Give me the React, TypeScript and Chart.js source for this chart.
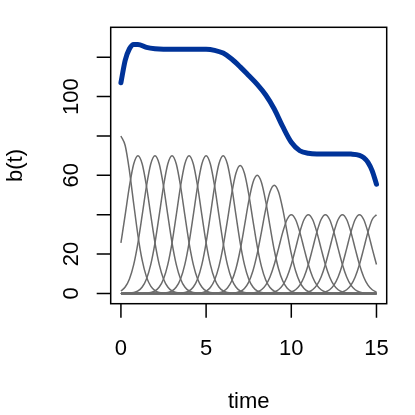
import React, { useEffect, useRef } from "react";
import { Chart, registerables } from "chart.js";

Chart.register(...registerables);

// Basis bump centres (time) and their peak heights
const bumpCenters = [0, 1, 2, 3, 4, 5, 6, 7, 8, 9, 10, 11, 12, 13, 14, 15];
const bumpPeaks = [80, 70, 70, 70, 70, 70, 70, 65, 60, 55, 40, 40, 40, 40, 40, 40];

// Shape of one bump relative to its peak (offsets in time units)
const profileOffsets = [
  -3, -2.75, -2.5, -2.25, -2, -1.75, -1.5, -1.25, -1, -0.75, -0.5, -0.25, 0,
  0.25, 0.5, 0.75, 1, 1.25, 1.5, 1.75, 2, 2.25, 2.5, 2.75, 3,
];
const profileShape = [
  0, 0.0005, 0.0019, 0.0063, 0.0183, 0.0468, 0.1054, 0.2096, 0.3679, 0.5698, 0.7788, 0.9394, 1,
  0.9394, 0.7788, 0.5698, 0.3679, 0.2096, 0.1054, 0.0468, 0.0183, 0.0063, 0.0019, 0.0005, 0,
];

// Thick blue curve b(t)
const sumTimes = [
  0, 0.25, 0.5, 0.75, 1, 1.5, 2, 2.5, 3, 3.5, 4, 4.5, 5, 5.5, 6, 6.5, 7, 7.5, 8, 8.5, 9, 9.5,
  10, 10.5, 11, 11.5, 12, 12.5, 13, 13.5, 14, 14.25, 14.5, 14.75, 15,
];
const sumValues = [
  107.0, 118.4, 124.3, 126.5, 126.5, 125.0, 124.3, 124.1, 124.1, 124.1, 124.1, 124.0, 124.0,
  123.5, 122.1, 119.1, 115.1, 110.7, 106.2, 100.8, 93.7, 84.7, 76.8, 72.5, 71.2, 70.9, 70.9,
  70.9, 70.9, 70.8, 70.2, 69.0, 66.6, 62.3, 55.5,
];

const xTicks = [0, 5, 10, 15];
const xTickLabels = ["0", "5", "10", "15"];
const yTicks = [0, 20, 40, 60, 80, 100, 120];
const yTickLabels = ["0", "20", "", "60", "", "100", ""];
const xTitle = "time";
const yTitle = "b(t)";

const X_MIN = -0.6;
const X_MAX = 15.6;
const Y_MIN = -5.2;
const Y_MAX = 135.2;
const FONT = '22px "Liberation Sans", Arial, Helvetica, sans-serif';

function buildBump(center: number, peak: number) {
  const pts: { x: number; y: number }[] = [];
  const first = center + profileOffsets[0];
  if (first > xTicks[0]) pts.push({ x: xTicks[0], y: 0 });
  profileOffsets.forEach((off, k) => {
    const x = center + off;
    if (x >= xTicks[0] && x <= xTicks[xTicks.length - 1]) {
      pts.push({ x, y: peak * profileShape[k] });
    }
  });
  const last = center + profileOffsets[profileOffsets.length - 1];
  if (last < xTicks[xTicks.length - 1]) pts.push({ x: xTicks[xTicks.length - 1], y: 0 });
  return pts;
}

const rAxesPlugin = {
  id: "rAxes",
  afterDraw(chart: any) {
    const { ctx, chartArea: a, scales } = chart;
    const xs = scales.x;
    const ys = scales.y;
    ctx.save();
    ctx.strokeStyle = "#000";
    ctx.lineWidth = 1.5;
    ctx.strokeRect(a.left, a.top, a.right - a.left, a.bottom - a.top);
    ctx.beginPath();
    xTicks.forEach((v) => {
      const px = xs.getPixelForValue(v);
      ctx.moveTo(px, a.bottom);
      ctx.lineTo(px, a.bottom + 14);
    });
    yTicks.forEach((v) => {
      const py = ys.getPixelForValue(v);
      ctx.moveTo(a.left, py);
      ctx.lineTo(a.left - 14, py);
    });
    ctx.stroke();

    ctx.fillStyle = "#000";
    ctx.font = FONT;
    ctx.textAlign = "center";
    ctx.textBaseline = "alphabetic";
    xTicks.forEach((v, i) => {
      ctx.fillText(xTickLabels[i], xs.getPixelForValue(v), a.bottom + 51.3);
    });
    yTicks.forEach((v, i) => {
      const lab = yTickLabels[i];
      if (!lab) return;
      ctx.save();
      ctx.translate(a.left - 32.4, ys.getPixelForValue(v));
      ctx.rotate(-Math.PI / 2);
      ctx.fillText(lab, 0, 0);
      ctx.restore();
    });
    ctx.fillText(xTitle, (a.left + a.right) / 2, a.bottom + 104.6);
    ctx.save();
    ctx.translate(a.left - 89, (a.top + a.bottom) / 2);
    ctx.rotate(-Math.PI / 2);
    ctx.fillText(yTitle, 0, 0);
    ctx.restore();
    ctx.restore();
  },
};

export default function App() {
  const ref = useRef<HTMLCanvasElement | null>(null);

  useEffect(() => {
    document.body.style.margin = "0";
    const canvas = ref.current;
    if (!canvas) return;

    const datasets: any[] = [
      {
        label: yTitle,
        data: sumTimes.map((t, i) => ({ x: t, y: sumValues[i] })),
        borderColor: "#003399",
        borderWidth: 5,
        borderCapStyle: "round",
        borderJoinStyle: "round",
        pointRadius: 0,
        cubicInterpolationMode: "monotone",
        fill: false,
      },
    ];
    bumpCenters.forEach((c, i) => {
      datasets.push({
        label: "basis " + c,
        data: buildBump(c, bumpPeaks[i]),
        borderColor: "#6b6b6b",
        borderWidth: 1.5,
        pointRadius: 0,
        cubicInterpolationMode: "monotone",
        fill: false,
      });
    });

    const chart = new Chart(canvas, {
      type: "line",
      data: { datasets },
      options: {
        animation: false,
        responsive: false,
        devicePixelRatio: 1,
        layout: { padding: { left: 110.7, right: 28.3, top: 27.3, bottom: 111.3 } },
        plugins: { legend: { display: false }, tooltip: { enabled: false } },
        scales: {
          x: { type: "linear", min: X_MIN, max: X_MAX, display: false },
          y: { type: "linear", min: Y_MIN, max: Y_MAX, display: false },
        },
      },
      plugins: [rAxesPlugin],
    } as any);

    return () => chart.destroy();
  }, []);

  return (
    <canvas
      ref={ref}
      width={415}
      height={415}
      style={{ display: "block", width: 415, height: 415 }}
    />
  );
}
